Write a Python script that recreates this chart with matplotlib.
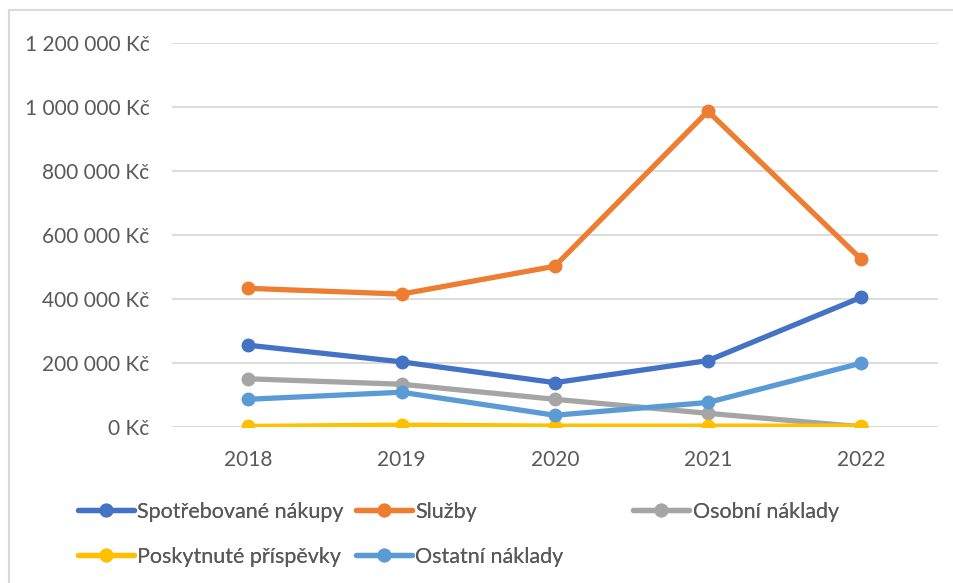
import matplotlib.pyplot as plt
from matplotlib.ticker import FuncFormatter
from matplotlib.patches import Rectangle

years = ["2018", "2019", "2020", "2021", "2022"]
spotrebovane_nakupy = [255000, 203000, 138000, 207000, 405000]
sluzby = [433000, 415000, 502000, 987000, 524000]
osobni_naklady = [150000, 133000, 86000, 42000, 0]
poskytnute_prispevky = [1000, 5000, 2000, 2000, 2000]
ostatni_naklady = [86000, 108000, 36000, 76000, 199000]

series = [
    ("Spotřebované nákupy", spotrebovane_nakupy, "#4472C4"),
    ("Služby", sluzby, "#ED7D31"),
    ("Osobní náklady", osobni_naklady, "#A5A5A5"),
    ("Poskytnuté příspěvky", poskytnute_prispevky, "#FFC000"),
    ("Ostatní náklady", ostatni_naklady, "#5B9BD5"),
]

plt.rcParams["font.family"] = ["Lato", "DejaVu Sans"]

fig = plt.figure(figsize=(9.54, 5.83), dpi=100)
ax = fig.add_axes([0.18, 0.268, 0.803, 0.658])

x = list(range(len(years)))
handles = []
for name, vals, color in series:
    h, = ax.plot(x, vals, color=color, lw=3.8, marker="o", ms=9,
                 solid_capstyle="round", label=name)
    handles.append(h)

ax.set_xlim(-0.5, 4.5)
ax.set_ylim(0, 1200000)
ax.set_yticks(range(0, 1200001, 200000))
ax.set_xticks(x)
ax.set_xticklabels(years)


def kc(v, pos):
    return "{:,.0f} Kč".format(v).replace(",", " ")


ax.yaxis.set_major_formatter(FuncFormatter(kc))
ax.grid(axis="y", color="#D9D9D9", lw=1.3)
ax.set_axisbelow(True)
for s in ax.spines.values():
    s.set_visible(False)
ax.tick_params(length=0, labelsize=15, labelcolor="#595959")
ax.tick_params(axis="y", pad=16)
ax.tick_params(axis="x", pad=17)

# legenda po sloupcich, jako v Excelu
cols = [(0.082, [0, 3]), (0.373, [1, 4]), (0.664, [2])]
for xpos, idx in cols:
    leg = fig.legend([handles[i] for i in idx], [series[i][0] for i in idx],
                     loc="upper left", bbox_to_anchor=(xpos, 0.139),
                     frameon=False, fontsize=15.5, handlelength=2.6,
                     handletextpad=0.15, labelspacing=1.15, borderaxespad=0,
                     borderpad=0, labelcolor="#595959")
    fig.add_artist(leg)

# ramecek kolem grafu
fig.add_artist(Rectangle((0.009, -0.01), 1.0, 0.993, transform=fig.transFigure,
                         fill=False, ec="#D9D9D9", lw=1.5))

fig.savefig("out.png", dpi=100)
